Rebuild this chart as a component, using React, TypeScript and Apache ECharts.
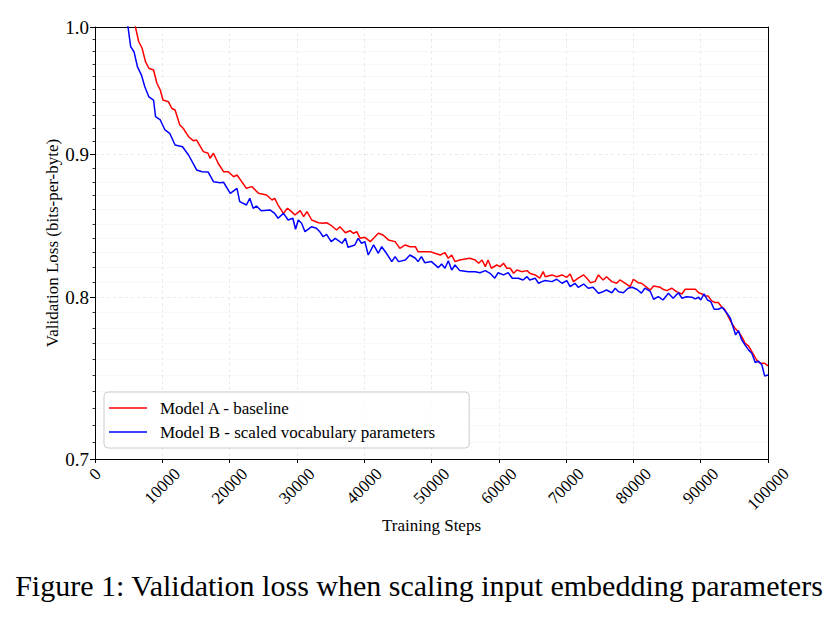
import React, { useEffect, useRef } from "react";
import * as echarts from "echarts";

// Validation loss (bits-per-byte) against training steps for the two runs.
const stepsA = [
  5600, 6000, 6500, 7000, 7500, 8000, 8700, 9200, 9700, 10100, 10900, 11400, 11900, 12600, 13100, 13900,
  14600, 15100, 16100, 16800, 17100, 17600, 18300, 19100, 19800, 20600, 21100, 21800, 22500, 23300, 24300,
  25500, 26300, 26700, 27200, 28000, 28600, 29200, 29700, 30500, 31000, 31500, 32200, 33200, 33900, 34400,
  35200, 35900, 36400, 37200, 37900, 38400, 38900, 39400, 40100, 40900, 41400, 42100, 42800, 43600, 44600,
  45300, 46100, 46800, 47600, 48000, 49000, 49800, 50500, 51300, 52000, 52500, 53000, 53500, 54200, 55000,
  55700, 56500, 57000, 57500, 58000, 58400, 58900, 59700, 60200, 60700, 61200, 61700, 62200, 62700, 63400,
  64200, 64600, 65400, 66100, 66600, 66900, 67900, 68600, 69400, 70100, 70600, 71100, 71800, 72600, 73100,
  73600, 74300, 74800, 75500, 76000, 76800, 77500, 78000, 78800, 79500, 80000, 80700, 81200, 82000, 82500,
  83000, 84000, 84400, 85000, 85700, 86400, 87200, 87700, 88400, 89200, 89700, 90200, 90600, 91100, 91600,
  92100, 92600, 93100, 93600, 94100, 94600, 95100, 95600, 96100, 96600, 97100, 97600, 98300, 98800, 99500,
  100000,
];
const lossA = [
  1.0183, 1.0002, 0.9879, 0.9826, 0.9718, 0.9665, 0.9651, 0.9546, 0.9493, 0.9415, 0.9402, 0.9351, 0.9338,
  0.9223, 0.9198, 0.9134, 0.9104, 0.9109, 0.9022, 0.901, 0.8973, 0.901, 0.8936, 0.8874, 0.8874, 0.8837,
  0.885, 0.8801, 0.8753, 0.8765, 0.8717, 0.8705, 0.8669, 0.8681, 0.8633, 0.8574, 0.861, 0.8586, 0.8562,
  0.8593, 0.8551, 0.8586, 0.8527, 0.8508, 0.8504, 0.8508, 0.8485, 0.8457, 0.848, 0.8438, 0.8452, 0.8434,
  0.8445, 0.8399, 0.8406, 0.8376, 0.8399, 0.8434, 0.8422, 0.8388, 0.8376, 0.833, 0.8353, 0.8341, 0.8341,
  0.8307, 0.8307, 0.8307, 0.8296, 0.8284, 0.83, 0.8262, 0.8284, 0.8239, 0.825, 0.8257, 0.8262, 0.825,
  0.8228, 0.825, 0.8205, 0.825, 0.8194, 0.8216, 0.8205, 0.8228, 0.8194, 0.8194, 0.816, 0.8182, 0.8171,
  0.8178, 0.816, 0.8149, 0.8127, 0.8171, 0.8137, 0.8149, 0.8137, 0.8149, 0.8133, 0.8155, 0.8104, 0.8127,
  0.8149, 0.8127, 0.8097, 0.8104, 0.8149, 0.8115, 0.8137, 0.8104, 0.8093, 0.8115, 0.8093, 0.807, 0.812,
  0.8097, 0.8093, 0.8066, 0.8048, 0.8075, 0.8066, 0.8053, 0.8044, 0.806, 0.8037, 0.8022, 0.8053, 0.8053,
  0.8053, 0.803, 0.8022, 0.8009, 0.8009, 0.7978, 0.7965, 0.7965, 0.7938, 0.7917, 0.7873, 0.783, 0.7798,
  0.7776, 0.7744, 0.7702, 0.7685, 0.7649, 0.7597, 0.7576, 0.7576, 0.7559,
];
const stepsB = [
  4500, 4900, 5300, 5800, 6300, 6900, 7400, 8000, 8700, 9000, 9700, 10400, 11100, 11900, 13000, 13900,
  15100, 15900, 16800, 17600, 18600, 19100, 20100, 21100, 21500, 22500, 23000, 23500, 24000, 24700, 26000,
  26700, 27200, 28000, 28700, 29400, 29800, 30200, 30700, 31200, 32200, 32900, 33400, 33900, 34400, 35100,
  35700, 36700, 37200, 37600, 38600, 39100, 39600, 40100, 40600, 41400, 42100, 42600, 43300, 44100, 44600,
  45100, 46100, 46800, 47600, 48000, 48500, 49000, 50000, 51000, 51500, 52000, 52500, 53000, 53500, 54200,
  55500, 56500, 57200, 58000, 58700, 59400, 59900, 60700, 61400, 62000, 62900, 63600, 64200, 64600, 65400,
  65900, 66400, 66900, 67900, 68600, 69400, 70100, 70600, 71300, 71800, 72600, 73300, 74000, 74800, 75500,
  76000, 76800, 77300, 77800, 78500, 79200, 79800, 80500, 81200, 81700, 82500, 83000, 83700, 84400, 85200,
  85900, 86700, 87200, 87900, 88700, 89200, 89700, 90000, 90500, 91000, 91500, 92000, 92600, 93200, 93900,
  94400, 94800, 95200, 95600, 96100, 96600, 97100, 97600, 98100, 98600, 99100, 99500, 100000,
];
const lossB = [
  1.0183, 1.0002, 0.9839, 0.9798, 0.9678, 0.9611, 0.9519, 0.944, 0.9415, 0.9286, 0.9261, 0.9185, 0.916,
  0.9072, 0.9059, 0.8997, 0.8887, 0.8874, 0.8872, 0.8801, 0.8794, 0.8797, 0.8717, 0.8753, 0.8657, 0.8633,
  0.8681, 0.861, 0.8626, 0.8593, 0.8598, 0.8574, 0.8539, 0.8574, 0.8527, 0.8539, 0.8462, 0.8527, 0.8504,
  0.8445, 0.848, 0.8469, 0.8445, 0.841, 0.8427, 0.8376, 0.8399, 0.8365, 0.8399, 0.8337, 0.8353, 0.8399,
  0.8365, 0.8376, 0.8284, 0.8353, 0.8296, 0.8341, 0.8296, 0.8239, 0.8273, 0.8239, 0.825, 0.8284, 0.8262,
  0.8239, 0.8273, 0.8232, 0.8239, 0.8198, 0.8223, 0.8194, 0.8245, 0.8182, 0.8216, 0.8178, 0.8171, 0.8171,
  0.8164, 0.8178, 0.816, 0.8127, 0.8164, 0.8149, 0.8164, 0.8127, 0.8127, 0.8115, 0.8137, 0.8115, 0.8127,
  0.8093, 0.8104, 0.8111, 0.8104, 0.812, 0.8093, 0.8111, 0.807, 0.8093, 0.8066, 0.8088, 0.806, 0.8066,
  0.8027, 0.8037, 0.8048, 0.803, 0.806, 0.8037, 0.803, 0.806, 0.8066, 0.8053, 0.8027, 0.806, 0.804, 0.7987,
  0.8004, 0.7982, 0.8027, 0.7994, 0.803, 0.7994, 0.8004, 0.8, 0.7989, 0.8, 0.7982, 0.8022, 0.7982, 0.7971,
  0.7921, 0.7921, 0.7934, 0.7895, 0.7863, 0.7808, 0.7755, 0.7783, 0.7723, 0.7691, 0.766, 0.7639, 0.7581,
  0.7588, 0.7565, 0.7497, 0.7503,
];

const nameA = "Model A - baseline";
const nameB = "Model B - scaled vocabulary parameters";
const caption = "Figure 1: Validation loss when scaling input embedding parameters";

const X_MIN = 0;
const X_MAX = 100000;
const X_STEP = 10000;
const yMajorTicks = [0.7, 0.8, 0.9, 1.0];
const yMinorTicks = [
  0.71, 0.72, 0.73, 0.74, 0.75, 0.76, 0.77, 0.78, 0.79, 0.81, 0.82, 0.83, 0.84, 0.85, 0.86, 0.87, 0.88,
  0.89, 0.91, 0.92, 0.93, 0.94, 0.95, 0.96, 0.97, 0.98, 0.99,
];

const FONT = "'Liberation Serif', 'Times New Roman', serif";

// The loss axis is logarithmic: values are placed by their log10 on a linear axis.
const toLog = (v: number) => Math.log10(v);
const Y_MIN = toLog(yMajorTicks[0]);
const Y_MAX = toLog(yMajorTicks[yMajorTicks.length - 1]);

const pairs = (steps: number[], loss: number[]) => steps.map((s, i) => [s, toLog(loss[i])]);

const SPLIT_MAJOR = { show: true, lineStyle: { color: "#e4e4e4", width: 0.8, type: [3, 3] } };
const HIDDEN = { show: false };
const NO_LINE = { show: false, onZero: false };
const SPINE = { show: true, onZero: false, lineStyle: { color: "#000", width: 1 } };

function xAxisBase(extra: any) {
  return {
    type: "value",
    gridIndex: 0,
    position: "bottom",
    min: X_MIN,
    max: X_MAX,
    interval: X_STEP,
    axisLine: NO_LINE,
    axisTick: HIDDEN,
    axisLabel: HIDDEN,
    splitLine: HIDDEN,
    ...extra,
  };
}

function yAxisBase(extra: any) {
  return {
    type: "value",
    gridIndex: 0,
    position: "left",
    min: Y_MIN,
    max: Y_MAX,
    axisLine: NO_LINE,
    axisTick: HIDDEN,
    axisLabel: HIDDEN,
    splitLine: HIDDEN,
    ...extra,
  };
}

function labelStyle(margin: number, show: (v: number) => boolean) {
  return {
    show: true,
    rotate: 45,
    align: "center",
    verticalAlign: "middle",
    margin,
    fontFamily: FONT,
    fontSize: 17,
    color: "#000",
    showMinLabel: true,
    showMaxLabel: true,
    formatter: (v: number) => (show(v) ? String(v) : ""),
  };
}

export default function App() {
  const ref = useRef<HTMLDivElement>(null);

  useEffect(() => {
    if (!ref.current) return;
    const chart = echarts.init(ref.current, null, { renderer: "svg" });

    chart.setOption({
      animation: false,
      backgroundColor: "#fff",
      title: {
        text: caption,
        left: "center",
        top: 565,
        textStyle: { fontFamily: FONT, fontSize: 30, fontWeight: "normal", color: "#000" },
      },
      grid: { left: 95, right: 70, top: 27, bottom: 160 },
      legend: {
        orient: "vertical",
        left: 104,
        top: 392,
        padding: [7.5, 34, 7.5, 5],
        icon: "rect",
        itemWidth: 38,
        itemHeight: 1.5,
        itemGap: 7,
        backgroundColor: "rgba(255,255,255,0.8)",
        borderColor: "#cccccc",
        borderWidth: 1,
        borderRadius: 4,
        textStyle: {
          fontFamily: FONT,
          fontSize: 17,
          lineHeight: 17,
          color: "#000",
          padding: [0, 0, 0, 8],
        },
        data: [nameA, nameB],
      },
      xAxis: [
        xAxisBase({
          name: "Training Steps",
          nameLocation: "middle",
          nameGap: 58,
          nameTextStyle: { fontFamily: FONT, fontSize: 17, color: "#000" },
          splitLine: SPLIT_MAJOR,
        }),
        xAxisBase({ axisLabel: labelStyle(15, (v) => v === X_MIN) }),
        xAxisBase({ axisLabel: labelStyle(30, (v) => v === X_MAX) }),
        // bottom spine with ticks and the 10000…90000 labels, drawn above the grid lines
        xAxisBase({
          axisLine: SPINE,
          axisTick: { show: true, length: 4, lineStyle: { color: "#000", width: 1 } },
          axisLabel: labelStyle(27, (v) => v > X_MIN && v < X_MAX),
        }),
        // top spine
        xAxisBase({ position: "top", axisLine: SPINE }),
      ],
      yAxis: [
        yAxisBase({
          name: "Validation Loss (bits-per-byte)",
          nameLocation: "middle",
          nameGap: 34,
          nameTextStyle: { fontFamily: FONT, fontSize: 17, color: "#000" },
          splitLine: { show: true, lineStyle: { color: "#f3f3f3", width: 0.6 } },
          axisTick: {
            show: true,
            length: 2.5,
            customValues: yMinorTicks.map(toLog),
            lineStyle: { color: "#000", width: 0.8 },
          },
        }),
        yAxisBase({
          axisLine: SPINE,
          axisTick: {
            show: true,
            length: 5,
            customValues: yMajorTicks.map(toLog),
            lineStyle: { color: "#000", width: 1 },
          },
          axisLabel: {
            show: true,
            customValues: yMajorTicks.map(toLog),
            formatter: (v: number) => Math.pow(10, v).toFixed(1),
            fontFamily: FONT,
            fontSize: 19,
            color: "#000",
            margin: 6,
          },
          splitLine: SPLIT_MAJOR,
        }),
        // right spine
        yAxisBase({ position: "right", axisLine: SPINE }),
      ],
      series: [
        {
          name: nameA,
          type: "line",
          xAxisIndex: 0,
          yAxisIndex: 0,
          data: pairs(stepsA, lossA),
          symbol: "none",
          lineStyle: { color: "#ff0000", width: 1.5 },
          itemStyle: { color: "#ff0000" },
          clip: true,
          z: 3,
        },
        {
          name: nameB,
          type: "line",
          xAxisIndex: 0,
          yAxisIndex: 0,
          data: pairs(stepsB, lossB),
          symbol: "none",
          lineStyle: { color: "#0000ff", width: 1.5 },
          itemStyle: { color: "#0000ff" },
          clip: true,
          z: 3,
        },
      ],
    });

    return () => chart.dispose();
  }, []);

  return (
    <div
      ref={ref}
      style={{ position: "absolute", left: 0, top: 0, width: 838, height: 619 }}
    />
  );
}
